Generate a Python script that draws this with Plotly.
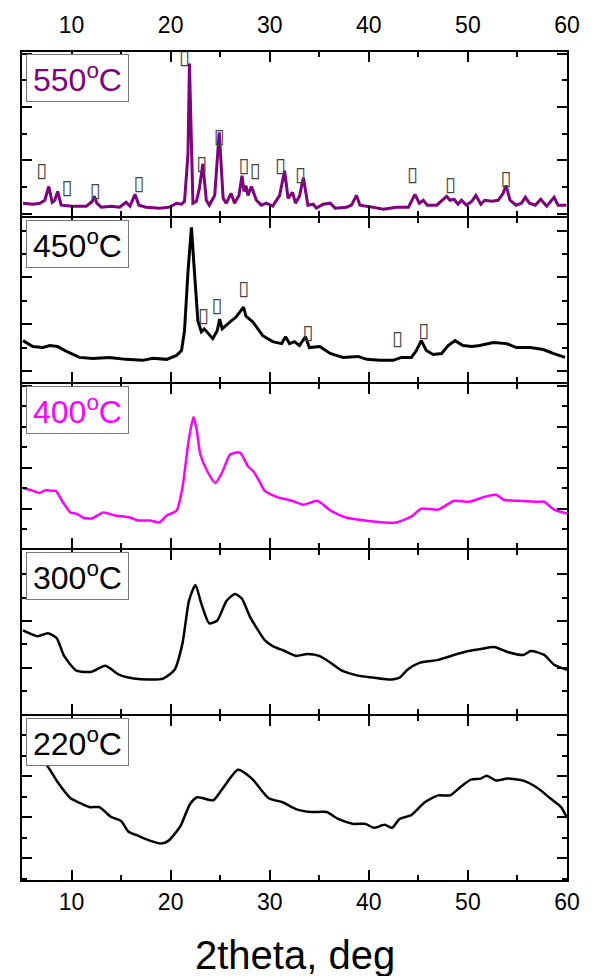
import plotly.graph_objects as go
from plotly.subplots import make_subplots

# ---------------- data (2theta in deg, intensity in arbitrary units) ----------------
tt_550 = [5.1, 6.1, 6.8, 7.3, 7.7, 8.05, 8.3, 8.6, 8.95, 10.1, 11.5, 12.1, 12.3, 12.55, 13.0, 14.0, 14.85,
          15.5, 15.9, 16.4, 16.8, 17.5, 18.9, 19.9, 20.6, 21.1, 21.4, 21.75, 21.9, 22.1, 22.25, 22.6, 22.9,
          23.25, 23.6, 23.9, 24.45, 24.9, 25.3, 25.6, 26.1, 26.45, 26.9, 27.2, 27.4, 27.6, 27.8, 28.15, 28.65,
          29.15, 29.65, 30.3, 31.0, 31.5, 31.85, 32.3, 32.6, 33.0, 33.4, 33.85, 34.4, 34.7, 35.4, 36.1, 36.6,
          37.75, 38.25, 38.75, 39.1, 40.4, 41.45, 42.8, 44.0, 44.65, 45.1, 45.5, 45.9, 46.85, 47.85, 48.2,
          48.6, 49.0, 49.35, 49.85, 50.4, 50.8, 51.3, 51.7, 52.4, 53.05, 53.55, 53.85, 54.25, 54.85, 55.4,
          55.8, 56.2, 56.8, 57.35, 57.95, 58.7, 59.1, 59.95]
i_550 = [13, 12, 13, 16, 30, 14, 16, 25, 11, 10, 10, 15, 20, 13, 9, 10, 9,
         14, 10, 22, 11, 9, 8, 9, 13, 12, 15, 63, 155, 63, 13, 15, 28,
         53, 16, 11, 21, 85, 18, 13, 23, 13, 21, 41, 25, 31, 21, 30, 16,
         11, 13, 10, 21, 46, 18, 24, 13, 20, 39, 11, 12, 8, 12, 13, 8,
         9, 11, 21, 11, 9, 7, 9, 9, 22, 13, 16, 11, 11, 20, 16,
         17, 12, 16, 11, 15, 21, 12, 16, 15, 16, 23, 31, 16, 11, 13,
         19, 13, 11, 17, 10, 19, 11, 11]

tt_450 = [5.1, 6.1, 7.1, 7.8, 8.6, 9.5, 10.8, 12.15, 13.8, 15.5, 17.2, 18.2, 19.6, 20.6, 21.1, 21.4,
          21.75, 22.1, 22.4, 22.75, 23.1, 23.4, 24.25, 24.7, 24.95, 25.2, 26.0, 26.6, 27.35, 27.6, 28.3,
          29.3, 30.3, 31.2, 31.6, 32.0, 32.5, 33.0, 33.6, 34.0, 35.05, 36.1, 37.4, 38.9, 39.8, 41.1, 42.45,
          43.3, 44.3, 44.8, 45.3, 45.8, 46.5, 47.35, 48.0, 48.7, 49.5, 50.4, 51.2, 52.55, 53.9, 54.9,
          56.3, 57.6, 58.6, 59.8]
i_450 = [42, 36, 35, 37, 36, 31, 25, 24, 25, 23, 22, 24, 23, 27, 32, 52,
         112, 157, 112, 62, 51, 54, 44, 52, 64, 54, 61, 66, 76, 67, 61,
         47, 41, 39, 46, 39, 41, 37, 46, 35, 36, 29, 25, 26, 23, 22, 22,
         25, 25, 32, 42, 32, 28, 29, 37, 42, 37, 36, 37, 40, 39, 35,
         35, 33, 29, 25]

tt_400 = [5.1, 5.85, 6.8, 7.4, 7.95, 8.4, 9.1, 9.9, 10.5, 11.1, 12.05, 13.2, 14.4, 15.9, 16.7, 17.9,
          18.85, 19.6, 20.6, 21.2, 21.8, 22.3, 22.6, 23.0, 23.7, 24.5, 25.25, 26.0, 27.0, 27.8, 28.35,
          28.95, 29.5, 30.7, 32.25, 33.4, 34.8, 36.15, 37.7, 39.6, 41.6, 42.75, 44.3, 45.3, 47.0, 48.6,
          50.1, 51.7, 52.85, 53.6, 55.2, 57.1, 57.7, 58.7, 60.0]
i_400 = [61, 59, 56, 59, 58, 58, 47, 36, 35, 31, 30, 36, 33, 31, 28, 28,
         26, 33, 38, 62, 108, 133, 122, 95, 78, 66, 78, 95, 97, 83, 78,
         68, 58, 52, 48, 44, 48, 38, 31, 28, 26, 26, 32, 40, 39, 48,
         47, 52, 54, 49, 48, 47, 47, 39, 35]

tt_300 = [5.1, 6.6, 7.6, 8.5, 9.25, 10.5, 12.05, 13.4, 14.8, 16.3, 17.9, 19.25, 20.4, 21.2, 21.85,
          22.5, 23.1, 23.9, 24.7, 25.65, 26.5, 27.2, 28.0, 29.5, 30.3, 31.5, 32.65, 33.8, 35.0, 36.15,
          37.3, 38.9, 40.4, 41.95, 43.1, 43.9, 45.1, 47.0, 48.6, 50.1, 51.3, 52.65, 54.0, 55.6, 56.35,
          57.7, 58.7, 60.0]
i_300 = [85, 79, 82, 77, 59, 44, 43, 49, 40, 36, 35, 36, 45, 72, 115,
         131, 112, 92, 95, 115, 122, 117, 99, 75, 69, 64, 59, 61, 59, 52,
         44, 39, 37, 35, 37, 45, 52, 55, 60, 64, 66, 68, 63, 60, 64,
         60, 50, 45]

tt_220 = [6.3, 7.4, 8.55, 9.9, 10.9, 11.85, 12.8, 14.0, 15.0, 15.75, 16.7, 17.9, 19.05, 19.8, 21.0,
          21.95, 22.7, 24.3, 25.25, 26.8, 28.2, 29.9, 31.3, 32.65, 34.2, 35.75, 36.9, 38.45, 39.65,
          40.5, 41.6, 42.35, 43.1, 44.3, 45.65, 47.0, 48.2, 49.3, 50.3, 51.3, 51.9, 52.85, 54.0, 55.6,
          57.1, 58.3, 59.4, 60.0]
i_220 = [124, 118, 100, 83, 78, 74, 74, 64, 60, 49, 45, 40, 37, 40, 55,
         77, 84, 81, 93, 112, 103, 83, 79, 72, 69, 69, 62, 57, 57,
         53, 56, 53, 62, 66, 79, 86, 86, 95, 102, 103, 106, 101, 103, 101,
         93, 83, 74, 63]

# phase markers (tofu-box glyphs in the original)
mk_tt_550 = [7.0, 9.53, 12.4, 16.8, 21.4, 23.15, 24.9, 27.4, 28.55, 31.1, 33.1, 44.4, 48.25, 53.85]
mk_i_550 = [45, 27, 24, 31, 160, 52, 79, 50, 45, 50, 41, 41, 30, 37]
mk_tt_450 = [23.33, 24.68, 27.37, 33.87, 42.9, 45.55]
mk_i_450 = [66, 76, 93, 49, 43, 51]

labels = ["550", "450", "400", "300", "220"]
colors = ["#800080", "#000000", "#FF00FF", "#000000", "#000000"]
series_tt = [tt_550, tt_450, tt_400, tt_300, tt_220]
series_i = [i_550, i_450, i_400, i_300, i_220]
widths = [3, 3, 2.5, 2.5, 2.5]
shapes = ["linear", "linear", "spline", "spline", "spline"]
# y tick layout per panel: (tick0, dtick)
ytick = [(2.3, 54.2), (11, 47.6), (40, 41.5), (47, 47.5), (22, 41.7)]

x_ticks = [10, 20, 30, 40, 50, 60]
FONT = "Liberation Sans, Arial, sans-serif"

fig = make_subplots(rows=5, cols=1, shared_xaxes=False, vertical_spacing=2.0 / 833)

for k in range(5):
    line = dict(color=colors[k], width=widths[k], shape=shapes[k])
    if shapes[k] == "spline":
        line["smoothing"] = 0.6
    fig.add_trace(go.Scatter(x=series_tt[k], y=series_i[k], mode="lines", line=line,
                             showlegend=False, hoverinfo="skip"), row=k + 1, col=1)

fig.add_trace(go.Scatter(x=mk_tt_550, y=mk_i_550, mode="text", text=["▯"] * len(mk_tt_550),
                         textfont=dict(size=20, color="#444444", family="DejaVu Sans"),
                         showlegend=False, hoverinfo="skip"), row=1, col=1)
fig.add_trace(go.Scatter(x=mk_tt_450, y=mk_i_450, mode="text", text=["▯"] * len(mk_tt_450),
                         textfont=dict(size=20, color="#444444", family="DejaVu Sans"),
                         showlegend=False, hoverinfo="skip"), row=2, col=1)

for k in range(5):
    r = k + 1
    fig.update_xaxes(range=[5, 60], tickmode="array", tickvals=x_ticks,
                     ticktext=[str(v) for v in x_ticks],
                     showline=True, linecolor="black", linewidth=2, mirror="allticks",
                     ticks="inside", ticklen=10, tickwidth=2, tickcolor="black",
                     minor=dict(ticks="inside", ticklen=5, tickwidth=2, tickcolor="black",
                                tickmode="array", tickvals=[15, 25, 35, 45, 55]),
                     showgrid=False, zeroline=False,
                     showticklabels=(r in (1, 5)), side=("top" if r == 1 else "bottom"),
                     ticklabelstandoff=(8 if r == 1 else 0),
                     tickfont=dict(family=FONT, size=23, color="black"),
                     row=r, col=1)
    t0, dt = ytick[k]
    fig.update_yaxes(range=[0, 166.6], tick0=t0, dtick=dt, tickmode="linear",
                     showline=True, linecolor="black", linewidth=2, mirror="allticks",
                     ticks="inside", ticklen=10, tickwidth=2, tickcolor="black",
                     minor=dict(ticks="inside", ticklen=5, tickwidth=2, tickcolor="black",
                                tick0=t0 + dt / 2, dtick=dt),
                     showgrid=False, zeroline=False, showticklabels=False,
                     row=r, col=1)
    yref = "y domain" if r == 1 else f"y{r} domain"
    xref = "x domain" if r == 1 else f"x{r} domain"
    fig.add_annotation(xref=xref, yref=yref, x=0.008, y=0.99, xanchor="left", yanchor="top",
                       text=f"{labels[k]}<sup>o</sup>C", showarrow=False, width=95, align="center",
                       font=dict(family=FONT, size=32, color=colors[k]),
                       bordercolor="#777777", borderwidth=1, borderpad=3, bgcolor="white")

fig.add_annotation(xref="paper", yref="paper", x=0.5, y=-0.09, xanchor="center", yanchor="middle",
                   text="2theta, deg", showarrow=False,
                   font=dict(family=FONT, size=40, color="black"))

fig.update_layout(width=598, height=976, margin=dict(l=22, r=31, t=47, b=96),
                  paper_bgcolor="white", plot_bgcolor="white", showlegend=False)

fig.write_html("out.html")
